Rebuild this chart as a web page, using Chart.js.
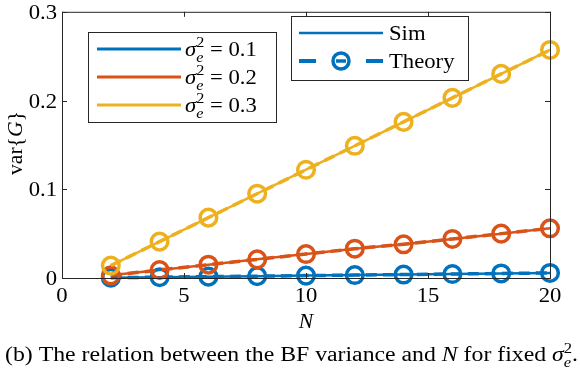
<!DOCTYPE html>
<html>
<head>
<meta charset="utf-8">
<script src="https://cdn.jsdelivr.net/npm/chart.js@4.4.1/dist/chart.umd.min.js"></script>
<style>
    html, body { margin: 0; padding: 0; background: #fff; }
    #wrap { width: 580px; height: 374px; position: relative; }
</style>
</head>
<body>
<div id="wrap"><canvas id="bfChart"></canvas></div>
<script>
// --- data ---
const nValues = [2, 4, 6, 8, 10, 12, 14, 16, 18, 20];
const varSigma01 = [0.0003, 0.0009, 0.0015, 0.0021, 0.0027, 0.0033, 0.0039, 0.0045, 0.0051, 0.0057];
const varSigma02 = [0.003, 0.009, 0.015, 0.021, 0.027, 0.033, 0.038, 0.044, 0.050, 0.056];
const varSigma03 = [0.014, 0.041, 0.068, 0.095, 0.122, 0.149, 0.176, 0.203, 0.230, 0.257];
const sigmaLabels = ['0.1', '0.2', '0.3'];
const kindLabels = ['Sim', 'Theory'];
const xTicks = [0, 5, 10, 15, 20];
const yTicks = [0, 0.1, 0.2, 0.3];

const blue = '#0072BD';
const red = '#D95319';
const yellow = '#EDB120';
const axisColor = '#262626';
const serif = '"Liberation Serif", "DejaVu Serif", serif';
const wide = 1.08; // Times is narrower than the LaTeX font in the figure

const seriesValues = [varSigma01, varSigma02, varSigma03];
const seriesColors = [blue, red, yellow];

const toPoints = (ys) => nValues.map((n, i) => ({ x: n, y: ys[i] }));

const datasets = [];
seriesValues.forEach((ys, i) => {
    // solid simulation curve
    datasets.push({
        label: kindLabels[0] + ' ' + sigmaLabels[i],
        data: toPoints(ys),
        borderColor: seriesColors[i],
        borderWidth: 2.5,
        pointRadius: 0,
        fill: false,
        clip: false,
        order: 20 - i * 2
    });
    // dashed theory curve with open circles
    datasets.push({
        label: kindLabels[1] + ' ' + sigmaLabels[i],
        data: toPoints(ys),
        borderColor: seriesColors[i],
        borderWidth: 3.5,
        borderDash: [11, 6],
        pointStyle: 'circle',
        pointRadius: 8.3,
        pointBorderWidth: 3.5,
        pointBackgroundColor: 'rgba(0,0,0,0)',
        pointBorderColor: seriesColors[i],
        fill: false,
        clip: false,
        order: 10 - i * 2
    });
});

const fontOf = (r) => `${r.it ? 'italic ' : ''}${r.size}px ${serif}`;

// runs of text, some italic, some raised/lowered; returns total width
function measureRuns(ctx, runs) {
    let w = 0;
    runs.forEach(r => {
        ctx.font = fontOf(r);
        if (!r.stay) w += ctx.measureText(r.t).width;
    });
    return w;
}

function drawRuns(ctx, runs, x, y, stretch, align) {
    const w = measureRuns(ctx, runs) * stretch;
    let px = align === 'center' ? x - w / 2 : align === 'right' ? x - w : x;
    ctx.textAlign = 'left';
    runs.forEach(r => {
        ctx.font = fontOf(r);
        ctx.save();
        ctx.translate(px, y + (r.dy || 0));
        ctx.scale(stretch, 1);
        ctx.fillText(r.t, 0, 0);
        ctx.restore();
        if (!r.stay) px += ctx.measureText(r.t).width * stretch;
    });
    return w;
}

const sigmaRuns = (size) => [
    { t: '\u03C3', it: true, size },
    { t: 'e', it: true, size: Math.round(size * 0.7), dy: size * 0.3, stay: true },
    { t: '2', size: Math.round(size * 0.7), dy: -size * 0.42 }
];

const decorations = {
    id: 'decorations',
    afterDraw(chart) {
        const ctx = chart.ctx;
        const { left, right, top, bottom } = chart.chartArea;
        const xs = chart.scales.x, ys = chart.scales.y;
        ctx.save();
        ctx.setLineDash([]);
        ctx.textBaseline = 'alphabetic';

        // axes box and inward ticks
        ctx.strokeStyle = axisColor;
        ctx.lineWidth = 1;
        ctx.strokeRect(left + 0.5, top + 0.5, right - left, bottom - top);
        ctx.beginPath();
        xTicks.forEach(v => {
            const px = Math.round(xs.getPixelForValue(v)) + 0.5;
            ctx.moveTo(px, bottom); ctx.lineTo(px, bottom - 5);
            ctx.moveTo(px, top); ctx.lineTo(px, top + 5);
        });
        yTicks.forEach(v => {
            const py = Math.round(ys.getPixelForValue(v)) + 0.5;
            ctx.moveTo(left, py); ctx.lineTo(left + 5, py);
            ctx.moveTo(right, py); ctx.lineTo(right - 5, py);
        });
        ctx.stroke();

        // tick labels
        ctx.fillStyle = '#000';
        xTicks.forEach(v => {
            drawRuns(ctx, [{ t: String(v), size: 21 }], xs.getPixelForValue(v), 302, wide, 'center');
        });
        yTicks.forEach(v => {
            const lab = v === 0 ? '0' : v.toFixed(1);
            drawRuns(ctx, [{ t: lab, size: 21 }], left - 5, ys.getPixelForValue(v) + 7, wide, 'right');
        });

        // y title: var{G}
        ctx.save();
        ctx.translate(22, 143);
        ctx.rotate(-Math.PI / 2);
        drawRuns(ctx, [{ t: 'var{', size: 20 }, { t: 'G', it: true, size: 20 }, { t: '}', size: 20 }], 0, 0, wide, 'center');
        ctx.restore();

        // x title
        drawRuns(ctx, [{ t: 'N', it: true, size: 20 }], (left + right) / 2, 328, wide, 'center');

        // legend 1: sigma values
        ctx.fillStyle = '#fff';
        ctx.fillRect(88, 32, 188, 90);
        ctx.strokeStyle = axisColor;
        ctx.lineWidth = 1;
        ctx.strokeRect(88.5, 32.5, 188, 90);
        sigmaLabels.forEach((lab, i) => {
            const cy = 49 + i * 28;
            ctx.strokeStyle = seriesColors[i];
            ctx.lineWidth = 3;
            ctx.beginPath(); ctx.moveTo(97, cy); ctx.lineTo(181, cy); ctx.stroke();
            ctx.fillStyle = '#000';
            drawRuns(ctx, [...sigmaRuns(21), { t: ' = ' + lab, size: 21 }], 185, cy + 7, wide, 'left');
        });

        // legend 2: Sim / Theory
        ctx.fillStyle = '#fff';
        ctx.fillRect(291, 16, 177, 64);
        ctx.lineWidth = 1;
        ctx.strokeStyle = axisColor;
        ctx.strokeRect(291.5, 16.5, 177, 64);
        ctx.strokeStyle = blue;
        ctx.lineWidth = 2.5;
        ctx.beginPath(); ctx.moveTo(299, 33); ctx.lineTo(383, 33); ctx.stroke();
        ctx.lineWidth = 4;
        ctx.beginPath();
        ctx.moveTo(299, 61); ctx.lineTo(316, 61);
        ctx.moveTo(366, 61); ctx.lineTo(383, 61);
        ctx.stroke();
        ctx.lineWidth = 3.5;
        ctx.beginPath(); ctx.arc(341, 61, 8, 0, Math.PI * 2); ctx.stroke();
        ctx.beginPath(); ctx.moveTo(336, 61); ctx.lineTo(346, 61); ctx.stroke();
        ctx.fillStyle = '#000';
        drawRuns(ctx, [{ t: kindLabels[0], size: 21 }], 389, 40, wide, 'left');
        drawRuns(ctx, [{ t: kindLabels[1], size: 21 }], 389, 68, wide, 'left');

        // caption, stretched to the same span as the figure's
        const capRuns = [
            { t: '(b) The relation between the BF variance and ', size: 20 },
            { t: 'N', it: true, size: 20 },
            { t: ' for fixed ', size: 20 },
            ...sigmaRuns(20),
            { t: '.', size: 20 }
        ];
        const natural = measureRuns(ctx, capRuns);
        drawRuns(ctx, capRuns, 5, 361, 573 / natural, 'left');

        ctx.restore();
    }
};

new Chart(document.getElementById('bfChart'), {
    type: 'line',
    data: { datasets },
    options: {
        responsive: true,
        maintainAspectRatio: false,
        animation: false,
        layout: { padding: { left: 0, right: 30, top: 10, bottom: 0 } },
        plugins: {
            legend: { display: false },
            tooltip: { enabled: false }
        },
        scales: {
            x: {
                type: 'linear',
                min: 0,
                max: 20,
                afterBuildTicks: (axis) => { axis.ticks = xTicks.map(v => ({ value: v })); },
                afterFit: (axis) => { axis.height = 96; },
                grid: { display: false, drawTicks: false },
                border: { display: false },
                ticks: { display: false }
            },
            y: {
                type: 'linear',
                min: 0,
                max: 0.3,
                afterBuildTicks: (axis) => { axis.ticks = yTicks.map(v => ({ value: v })); },
                afterFit: (axis) => { axis.width = 62; },
                grid: { display: false, drawTicks: false },
                border: { display: false },
                ticks: { display: false }
            }
        }
    },
    plugins: [decorations]
});
</script>
</body>
</html>
